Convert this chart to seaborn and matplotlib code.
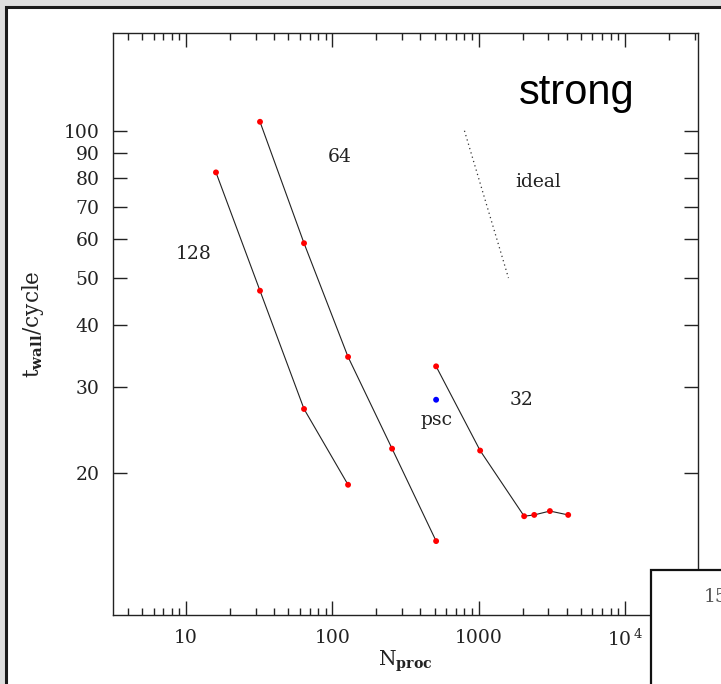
import numpy as np
import pandas as pd
import matplotlib
matplotlib.use("Agg")
import matplotlib.pyplot as plt
from matplotlib.patches import Rectangle
from matplotlib.ticker import FixedLocator, FixedFormatter, NullFormatter, NullLocator, LogLocator
import seaborn as sns

# wall-clock time per cycle against processor count, per problem size
nproc_128 = [16, 32, 64, 128]
twall_128 = [82.2, 47.1, 27.0, 18.9]
nproc_64 = [32, 64, 128, 256, 512]
twall_64 = [104.3, 58.9, 34.5, 22.4, 14.5]
nproc_32 = [512, 1024, 2048, 2400, 3072, 4096]
twall_32 = [33.0, 22.2, 16.3, 16.4, 16.7, 16.4]
series_names = ["128", "64", "32"]

# single run on psc
nproc_psc = [512]
twall_psc = [28.2]

# ideal strong-scaling slope
nproc_ideal = [800, 1600]
twall_ideal = [100, 50]

xtick_values = [10, 100, 1000, 10000]
xtick_labels = ["10", "100", "1000", r"$\mathregular{10^{\,4}}$"]
ytick_values = [20, 30, 40, 50, 60, 70, 80, 90, 100]
ytick_labels = ["20", "30", "40", "50", "60", "70", "80", "90", "100"]

frames = []
for name, xs, ys in zip(series_names, [nproc_128, nproc_64, nproc_32],
                        [twall_128, twall_64, twall_32]):
    frames.append(pd.DataFrame({"nproc": xs, "twall": ys, "series": name}))
df = pd.concat(frames, ignore_index=True)
df_psc = pd.DataFrame({"nproc": nproc_psc, "twall": twall_psc})
df_ideal = pd.DataFrame({"nproc": nproc_ideal, "twall": twall_ideal})

sns.set_style("ticks")
plt.rcParams["font.family"] = ["DejaVu Serif"]
plt.rcParams["mathtext.fontset"] = "dejavuserif"

W, H = 721, 684
fig = plt.figure(figsize=(W / 100, H / 100), dpi=100)
fig.patch.set_facecolor("#dedede")

# slide panel behind the plot
fig.add_artist(Rectangle((5.5 / W, -0.1), 1.2, (H - 6.5) / H + 0.1,
                         transform=fig.transFigure, facecolor="white",
                         edgecolor="#1a1a1a", linewidth=2.2, zorder=-5))

ax = fig.add_axes([113 / W, 1 - 615 / H, 585 / W, 582 / H])
ax.set_facecolor("none")
ax.set_xscale("log")
ax.set_yscale("log")

sns.lineplot(data=df, x="nproc", y="twall", units="series", estimator=None,
             sort=False, color="#222222", linewidth=0.8, ax=ax, legend=False)
sns.scatterplot(data=df, x="nproc", y="twall", color="#ff0000", s=18,
                edgecolor="none", zorder=3, ax=ax, legend=False)
sns.scatterplot(data=df_psc, x="nproc", y="twall", color="#0000ff", s=18,
                edgecolor="none", zorder=3, ax=ax, legend=False)
sns.lineplot(data=df_ideal, x="nproc", y="twall", color="#333333",
             linewidth=0.9, linestyle=(0, (1, 2.6)), ax=ax, legend=False)

ax.set_xlim(10 ** 0.5, 10 ** 4.5)
ax.set_ylim(10.24, 158.4)

ax.xaxis.set_major_locator(FixedLocator(xtick_values))
ax.xaxis.set_major_formatter(FixedFormatter(xtick_labels))
ax.xaxis.set_minor_locator(LogLocator(base=10, subs=np.arange(2, 10)))
ax.xaxis.set_minor_formatter(NullFormatter())
ax.yaxis.set_major_locator(FixedLocator(ytick_values))
ax.yaxis.set_major_formatter(FixedFormatter(ytick_labels))
ax.yaxis.set_minor_locator(NullLocator())

for s in ax.spines.values():
    s.set_visible(True)
    s.set_linewidth(1.0)
    s.set_color("#222222")

ax.tick_params(which="both", direction="in", top=True, right=True,
               labeltop=False, labelright=False, color="#222222", width=1.0)
ax.tick_params(which="major", length=10, labelsize=13.5, labelcolor="#222222")
ax.tick_params(axis="x", which="major", pad=10)
ax.tick_params(axis="y", which="major", pad=9.5)
ax.tick_params(which="minor", length=5)

ax.set_xlabel(r"$\mathregular{N_{\mathbf{proc}}}$", fontsize=14.5, color="#222222")
ax.set_ylabel(r"$\mathregular{t_{\mathbf{wall}}}$/cycle", fontsize=15.5, color="#222222")
ax.xaxis.set_label_coords(0.5, -0.058)
ax.yaxis.set_label_coords(-0.114, 0.5)

label_kw = dict(ha="center", va="center", fontsize=13.5, color="#222222")
ax.text(113, 88.5, "64", **label_kw)
ax.text(11.3, 55.9, "128", **label_kw)
ax.text(2535, 78.7, "ideal", **label_kw)
ax.text(1972, 28.2, "32", **label_kw)
ax.text(515, 25.6, "psc", **label_kw)
ax.text(0.793, 0.878, "strong", transform=ax.transAxes, ha="center",
        va="baseline", fontsize=30, family="Liberation Sans", color="black")

# neighbouring panel overlapping the lower-right corner
fig.add_artist(Rectangle((651 / W, -0.1), 0.5, (H - 570) / H + 0.1,
                         transform=fig.transFigure, facecolor="white",
                         edgecolor="#111111", linewidth=1.6, zorder=5))
fig.text(704 / W, 1 - 597 / H, "15", ha="left", va="center", fontsize=13.5,
         color="#555555", zorder=6)

fig.savefig("out.png", dpi=100, facecolor=fig.get_facecolor())
